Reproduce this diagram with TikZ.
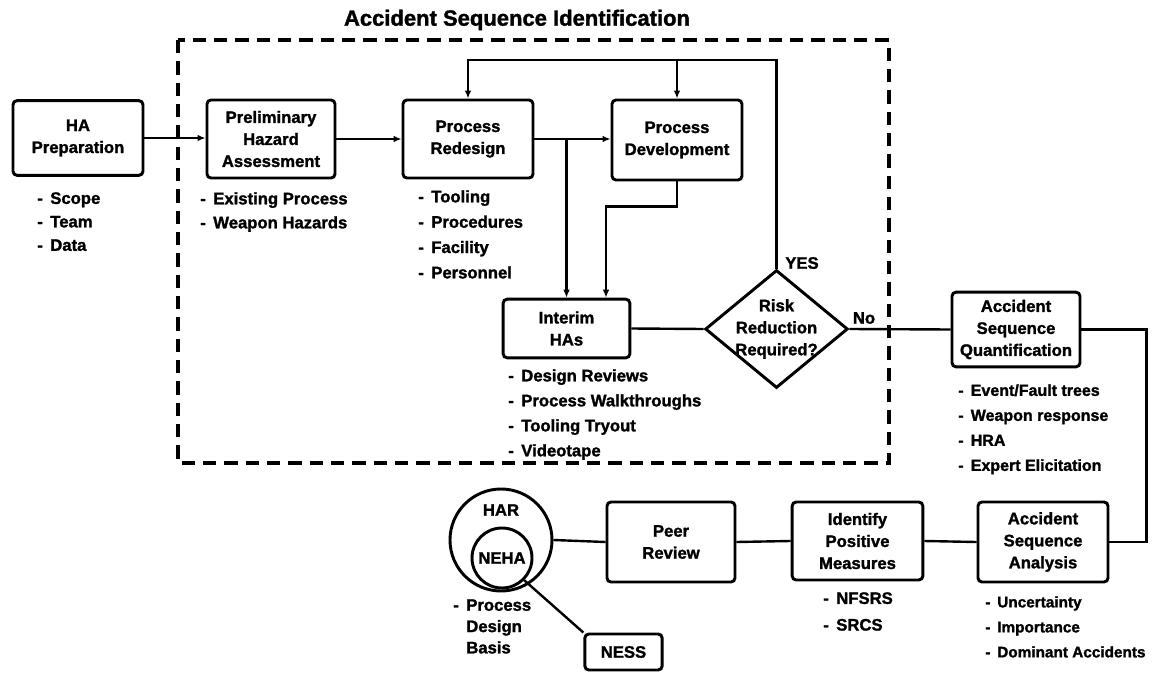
\documentclass[tikz,border=0pt]{standalone}
\usepackage{fontspec}
\setmainfont{Liberation Sans}[BoldFeatures={FakeBold=1.5}]
\usetikzlibrary{shapes.geometric,arrows.meta,calc}
\newcommand{\dsh}{-\hspace{0.45em}}
\newcommand{\dshph}{\phantom{-}\hspace{0.45em}}
\begin{document}
\begin{tikzpicture}[x=0.75pt,y=-0.75pt,
  every node/.style={font=\fontsize{12.5}{16.5}\selectfont\bfseries},
  box/.style={draw,line width=2.2pt,rounded corners=3pt,align=center,inner sep=0pt},
  conn/.style={line width=1.8pt},
  arr/.style={conn,-{Latex[length=6pt,width=5pt]}},
  lst/.style={align=left,anchor=north west,inner sep=0pt},
  grp/.style={line width=3pt,dash pattern=on 10pt off 6pt},
]
\useasboundingbox (0,0) rectangle (1164,674);

% title and group frame
\node (title) at (517,20) {\fontsize{16.5}{20}\selectfont Accident Sequence Identification};
\draw[grp] (178,40) rectangle (889,463);

% boxes
\node[box,minimum width=97.5pt,minimum height=56pt] (hap) at (78,138) {HA\\Preparation};
\node[box,minimum width=96pt,minimum height=58.5pt] (pha) at (271,139) {Preliminary\\Hazard\\Assessment};
\node[box,minimum width=97.5pt,minimum height=58.5pt] (prd) at (468,139) {Process\\Redesign};
\node[box,minimum width=97.5pt,minimum height=60pt] (pdv) at (677,140) {Process\\Development};
\node[box,minimum width=95pt,minimum height=44pt] (iha) at (566.5,328.5) {Interim\\HAs};
\node[draw,diamond,line width=2.2pt,minimum width=107pt,minimum height=88.5pt,inner sep=0pt] (dia) at (776.5,329) {};
\node[align=center,inner sep=0pt] (diat) at (776.5,329) {Risk\\Reduction\\Required?};
\node[box,minimum width=96pt,minimum height=56pt] (asq) at (1016,329.5) {Accident\\Sequence\\Quantification};
\node[box,minimum width=97.5pt,minimum height=60pt] (asa) at (1043,542) {Accident\\Sequence\\Analysis};
\node[box,minimum width=98pt,minimum height=58.5pt] (ipm) at (857.5,541) {Identify\\Positive\\Measures};
\node[box,minimum width=96pt,minimum height=60pt] (prv) at (671,542) {Peer\\Review};
\node[draw,circle,line width=2.2pt,minimum size=76.5pt,inner sep=0pt] (har) at (501,540) {};
\node (hart) at (501,510) {HAR};
\node[draw,circle,line width=2.2pt,minimum size=45pt,inner sep=0pt] (neha) at (502,558) {NEHA};
\node[box,minimum width=58pt,minimum height=27pt] (ness) at (623.5,652) {NESS};

% connectors
\coordinate (top) at (0,60);
\draw[arr] (hap.east) -- (hap.east -| pha.west);
\draw[arr] (pha.east) -- (pha.east -| prd.west);
\draw[arr] (prd.east) -- (prd.east -| pdv.west);
\draw[arr] (iha.north |- prd.east) -- (iha.north);
\draw[arr] (pdv.south) -- ++(0,25) -| ($(iha.north)+(39.5,0)$);
\draw[arr] (dia.north) -- (dia.north |- top) -| (prd.north);
\draw[arr] (pdv.north |- top) -- (pdv.north);
\draw[conn] (iha.east) -- (dia.west);
\draw[conn] (dia.east) -- (asq.west);
\draw[conn] (asq.east) -- ++(65,0) |- (asa.east);
\draw[conn] (asa.west) -- (ipm.east);
\draw[conn] (ipm.west) -- (prv.east);
\draw[conn] (prv.west) -- (har.east);
\draw[conn] (neha.-45) -- (ness.north west);

% labels
\node (yes) at (802,263) {YES};
\node (no) at (864,318) {No};

% bullet lists
\node[lst,font=\fontsize{12.5}{17.6}\selectfont\bfseries] (l1) at (37,192) {\dsh Scope\\\dsh Team\\\dsh Data};
\node[lst,font=\fontsize{12.5}{18}\selectfont\bfseries] (l2) at (200,192) {\dsh Existing Process\\\dsh Weapon Hazards};
\node[lst,font=\fontsize{12.5}{19}\selectfont\bfseries] (l3) at (418,190) {\dsh Tooling\\\dsh Procedures\\\dsh Facility\\\dsh Personnel};
\node[lst,font=\fontsize{12.5}{18.75}\selectfont\bfseries] (l4) at (508,369) {\dsh Design Reviews\\\dsh Process Walkthroughs\\\dsh Tooling Tryout\\\dsh Videotape};
\node[lst,font=\fontsize{12}{18.75}\selectfont\bfseries] (l5) at (958,384) {\dsh Event/Fault trees\\\dsh Weapon response\\\dsh HRA\\\dsh Expert Elicitation};
\node[lst,font=\fontsize{11.5}{18.75}\selectfont\bfseries] (l6) at (985,596) {\dsh Uncertainty\\\dsh Importance\\\dsh Dominant Accidents};
\node[lst,font=\fontsize{12.5}{20}\selectfont\bfseries] (l7) at (823,592) {\dsh NFSRS\\\dsh SRCS};
\node[lst,font=\fontsize{12.5}{16}\selectfont\bfseries] (l8) at (453,599) {\dsh Process\\\dshph Design\\\dshph Basis};
\end{tikzpicture}
\end{document}
